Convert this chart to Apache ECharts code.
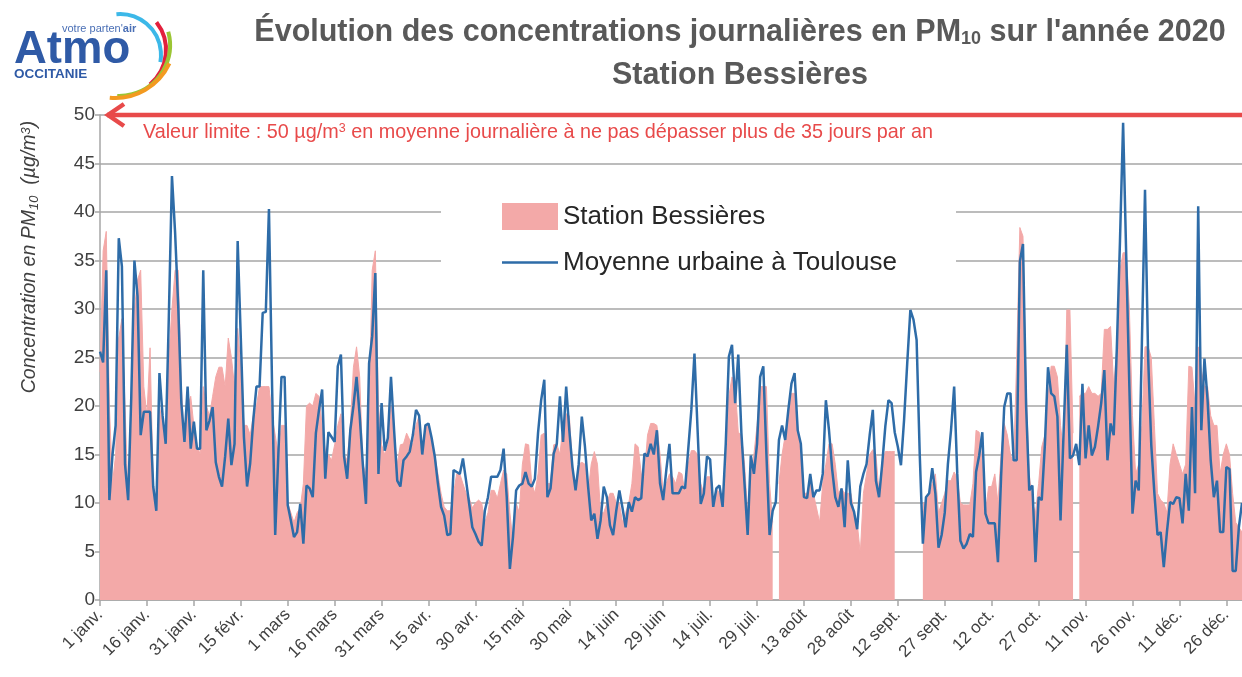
<!DOCTYPE html>
<html><head><meta charset="utf-8">
<script src="https://cdn.jsdelivr.net/npm/echarts@6/dist/echarts.min.js"></script>
<style>html,body{margin:0;padding:0;background:#fff}#c{width:1242px;height:677px}</style>
</head><body><div id="c"></div>
<script>
const monthNames = ['janv.','févr.','mars','avr.','mai','juin','juil.','août','sept.','oct.','nov.','déc.'];
const monthDays = [31,29,31,30,31,30,31,31,30,31,30,31];
const yMin = 0, yMax = 50, yStep = 5;
const limitValue = 50;

const bessieres = [
23.5,36,38,20,12,15,27,29,20,10,
18,30,33,34,22,19,26,12,10,20,
18,16,25,30,34,34,22,16,20,21,
18,16,15,22,20,19,21,23,24,24,
22,27,25,22,28,24,18,18,17,19,
20,22,22,22,22,19,17,15,18,18,
10,9,8,9,9.5,12,20,20.3,20,21.3,
21,18,15.4,15,14.4,16,18,19.2,15,14.4,
18,24,26.1,23,14,13,20,34,36,20,
16,15,16,20,17,14,16,16.1,17.2,16.5,
16,18,19,15,18,18.2,16.5,15,13,11,
9.6,9.2,9.2,11,13,13,12,11,10.5,9.5,
10,10.3,10,8,9,11.3,11.3,10.5,12,13.4,
13,9,6,10,9,14,16.1,16,12,11,
13,17,17.2,12,12,16,16.1,15,18,19.2,
19,14,11,14,14.2,14,11,14,15.3,14,
9,9,10,11,11,10,10,8,9,10,
12,16.1,15.8,13,13,17,18.2,18.2,18,15,
11,12,13,12.7,12,13.2,13,11,14,15.4,
15.4,15,12,11,12.7,12.7,10,11.5,11,10,
13,21,23,22,17.3,17,14,9,13,15,
18,22,22,22,12,8,null,12,15,17,
19,21.3,21.3,18,15,11,11,12.5,11,9.5,
8,12,14,16.1,16.1,14,11,11.5,11,11,
11,9,8,4.8,11,13,15,15.5,15,11,
14,15.3,15.3,15.3,15.3,null,null,null,null,null,
null,null,null,10,10,11,12,13,9,10,
11,12.3,12.3,13.2,12.5,10,9.8,9.8,9.8,12,
17.5,17.3,14,9,11.7,11.7,13,10,15,18.2,
17,15,14,25,38.4,37.5,22,13,10,9,
12,15.8,17,21,24.1,24.1,23,18,15,29.9,
29.9,17.2,null,21,21.3,21.3,22,21.3,21.3,21,
21.3,27.9,27.9,28.2,22,26,34,35.8,35.8,30,
19,13,14,18,26.1,26.1,25,18,11,10.3,
10,9,14,16.1,15,14,13,14,24.1,24,
20,26.1,23.7,22,22,19,18,18,13,15,
16.1,15,11,8,7.5,7
];

const toulouse = [
25.6,24.5,34,10.3,15,18,37.3,34.4,14,10.3,
21,35,31.3,17,19.4,19.4,19.4,11.7,9.2,23.4,
19,16.1,29.2,43.7,37.9,30.3,20.3,16.3,22,15.6,
18.4,15.6,15.6,34,17.5,18.5,19.9,14.2,12.7,11.7,
14.8,18.7,13.9,16.1,37,27,16.8,11.7,14.1,18.6,
22,22,29.6,29.7,40.3,22,6.7,15,23,23,
9.8,8.2,6.5,7,9.9,5.8,11.8,11.5,10.6,17.2,
19.6,21.7,12.5,17.3,16.8,16.3,24.1,25.3,14.8,12.5,
17.5,20,23,19,14,9.9,24.4,27.2,33.7,13,
20.3,15.4,16.7,23,17.5,12.3,11.7,14.4,14.8,15.3,
17,19.6,19,15,18,18.2,16.7,14.8,12,9.6,
8.7,6.7,6.8,13.4,13.2,13,14.6,12.3,9.9,7.5,
6.8,6,5.6,9.2,10.6,12.7,12.7,12.7,13.4,15.6,
10.6,3.2,6.5,11.3,11.8,12,13.2,12,11.7,12.5,
17.2,20.6,22.7,10.6,11.5,15.1,16.1,21,16.3,22,
17.5,13.7,11.3,14,18.9,15.8,11.7,8.2,8.9,6.3,
8.2,11.7,10.6,7.7,6.7,9.2,11.3,9.5,7.5,10.1,
9.1,10.6,10.3,10.5,15.1,14.8,16.1,15,17.5,12,
10.3,13.4,16.1,11,11,11,11.7,11.5,15.5,19.6,
25.4,17.5,9.9,11,14.8,14.5,9.6,11.5,11.8,9.6,
16.1,25.1,26.3,20.3,25.3,17.2,12,6.7,14.9,13,
16.1,23,24.1,15,6.7,9.2,10.1,16.5,18,16.5,
19.6,22.3,23.4,17.5,16.1,10.6,10.5,13,10.6,11.3,
11.3,13,20.6,17.5,13.5,10.6,9.6,11.5,7.5,14.4,
10,9.1,7.3,11.7,13,14,17,19.6,12.3,10.6,
14,17.9,20.6,20.3,17.3,15.8,13.9,18.6,24.4,29.9,
28.9,26.8,15,5.8,10.6,11,13.6,11,5.4,6.7,
9,14,17.5,22,13,6.1,5.3,5.8,6.8,6.5,
13.2,14.9,17.3,8.9,7.9,7.9,7.9,3.9,12.7,19.9,
21.3,21.3,14.4,14.4,34.9,36.7,20,11.3,11.8,3.9,
10.6,10.3,16,24,21.3,21,18.9,8.2,17.5,26.3,
14.6,14.9,16.1,13.9,22.3,14.6,18,14.9,15.8,17.9,
20.3,23.7,14.4,18.2,17,26,37,49.2,35.4,22,
8.9,12.3,11.3,26.5,42.3,25,16,11,6.7,7,
3.4,7,10.1,9.9,10.6,10.5,7.9,13,9.2,19.9,
11,40.6,17.5,24.9,20.6,14.4,10.6,12.3,7,7,
13.7,13.5,3,3,7.5,10
];

const days = [];
monthDays.forEach((n, m) => { for (let d = 1; d <= n; d++) days.push(d + ' ' + monthNames[m]); });

const NARROW = "'Liberation Sans Narrow','Arial Narrow','Liberation Sans',Arial,sans-serif";
const SANS = "'Liberation Sans',Arial,sans-serif";
const PINK = '#f3a9a8', BLUE = '#2e6ca8', RED = '#e84a4a', GRID = '#a6a6a6';
const lineIcon = 'path://M0,0L0.05,0L0.05,0.05Z M0,12.2L56,12.2L56,14.8L0,14.8Z M55.95,27L56,27L56,26.95Z';

const chart = echarts.init(document.getElementById('c'), null, {renderer: 'canvas'});
const option = {
  animation: false,
  backgroundColor: '#fff',
  grid: {left: 100, top: 115, width: 1144, height: 485},
  xAxis: {
    type: 'category', data: days, boundaryGap: false,
    axisLine: {lineStyle: {color: GRID, width: 1.5}},
    axisTick: {interval: 14, length: 6, lineStyle: {color: GRID, width: 1.5}},
    axisLabel: {interval: 14, rotate: 45, fontSize: 17, color: '#404040', fontFamily: SANS, margin: 12},
    splitLine: {show: false}
  },
  yAxis: {
    type: 'value', min: yMin, max: yMax, interval: yStep,
    axisLine: {show: true, lineStyle: {color: GRID, width: 1.5}},
    axisTick: {show: true, length: 5, lineStyle: {color: GRID, width: 1.5}},
    axisLabel: {fontSize: 19, color: '#404040', fontFamily: SANS, margin: 5},
    splitLine: {lineStyle: {color: GRID, width: 1.5}}
  },
  legend: {
    orient: 'vertical', left: 502, top: 203, padding: 0,
    itemWidth: 56, itemHeight: 27, itemGap: 19, z: 10,
    textStyle: {fontSize: 26, color: '#262626', fontFamily: SANS},
    data: [{name: 'Station Bessières', icon: 'rect'}, {name: 'Moyenne urbaine à Toulouse', icon: lineIcon}]
  },
  series: [
    {name: 'Station Bessières', type: 'line', data: bessieres, symbol: 'none', connectNulls: false,
     lineStyle: {width: 1, color: PINK}, itemStyle: {color: PINK}, areaStyle: {color: PINK, opacity: 1}, z: 2},
    {name: 'Moyenne urbaine à Toulouse', type: 'line', data: toulouse, symbol: 'none', showSymbol: false,
     lineStyle: {width: 2.5, color: BLUE}, itemStyle: {color: BLUE}, z: 3}
  ]
};
chart.setOption(option);

const p0 = chart.convertToPixel({gridIndex: 0}, [0, limitValue]);
const pEnd = chart.convertToPixel({gridIndex: 0}, [days.length - 1, limitValue]);
const ly = p0[1];
const rad = a => a * Math.PI / 180;

const graphic = [
  {type: 'rect', shape: {x: 441, y: 190, width: 515, height: 95}, style: {fill: '#fff'}, z: 3},
  // limit line and arrow
  {type: 'line', shape: {x1: p0[0] + 7, y1: ly, x2: pEnd[0], y2: ly}, style: {stroke: RED, lineWidth: 4.5}, z: 20},
  {type: 'polyline', shape: {points: [[p0[0] + 24, ly - 11], [p0[0] + 8, ly], [p0[0] + 24, ly + 11]]},
   style: {stroke: RED, lineWidth: 4.5, fill: null, lineJoin: 'miter'}, z: 20},
  {type: 'text', x: p0[0] + 43, y: ly + 18, z: 20,
   style: {text: '{a|Valeur limite : 50 µg/m}{b|3}{a| en moyenne journalière à ne pas dépasser plus de 35 jours par an}',
     verticalAlign: 'middle', fill: RED,
     rich: {a: {fontSize: 19.8, fontFamily: NARROW, fill: RED},
            b: {fontSize: 12.5, fontFamily: NARROW, fill: RED, padding: [0, 0, 8, 0]}}}},
  // titles
  {type: 'text', x: 740, y: 33, z: 20,
   style: {text: '{a|Évolution des concentrations journalières en PM}{b|10}{a| sur l\'année 2020}',
     align: 'center', verticalAlign: 'middle',
     rich: {a: {fontSize: 30.5, fontWeight: 'bold', fontFamily: NARROW, fill: '#595959'},
            b: {fontSize: 18, fontWeight: 'bold', fontFamily: NARROW, fill: '#595959', padding: [12, 0, 0, 0]}}}},
  {type: 'text', x: 740, y: 76, z: 20,
   style: {text: 'Station Bessières', align: 'center', verticalAlign: 'middle',
     font: "bold 30.5px " + NARROW, fill: '#595959'}},
  // y axis name
  {type: 'text', x: 30, y: 257, rotation: Math.PI / 2, z: 20,
   style: {text: '{a|Concentration en PM}{b|10}{a|  (µg/m}{c|3}{a|)}', align: 'center', verticalAlign: 'middle',
     rich: {a: {fontSize: 19.5, fontStyle: 'italic', fontFamily: SANS, fill: '#404040'},
            b: {fontSize: 13, fontStyle: 'italic', fontFamily: SANS, fill: '#404040', padding: [9, 0, 0, 0]},
            c: {fontSize: 13, fontStyle: 'italic', fontFamily: SANS, fill: '#404040', padding: [0, 0, 8, 0]}}}},
  // logo
  {type: 'arc', shape: {cx: 120, cy: 55, r: 41, startAngle: rad(-95), endAngle: rad(10)}, style: {stroke: '#3cb8e8', lineWidth: 4, fill: null}, z: 20},
  {type: 'arc', shape: {cx: 121, cy: 50, r: 45, startAngle: rad(-38), endAngle: rad(50)}, style: {stroke: '#e2203c', lineWidth: 4, fill: null}, z: 20},
  {type: 'arc', shape: {cx: 119, cy: 45, r: 51, startAngle: rad(-15), endAngle: rad(92)}, style: {stroke: '#9bc534', lineWidth: 4, fill: null}, z: 20},
  {type: 'arc', shape: {cx: 115, cy: 38, r: 60, startAngle: rad(25), endAngle: rad(95)}, style: {stroke: '#f39a20', lineWidth: 4, fill: null}, z: 20},
  {type: 'text', x: 14, y: 50, z: 21, style: {text: 'Atmo', font: "bold 45.5px " + SANS, fill: '#2f5aa6', verticalAlign: 'middle'}},
  {type: 'text', x: 62, y: 29, z: 22, style: {text: "{a|votre parten'}{b|air}", verticalAlign: 'middle',
     rich: {a: {fontSize: 11, fontFamily: SANS, fill: '#4a6fb5'}, b: {fontSize: 11, fontWeight: 'bold', fontFamily: SANS, fill: '#4a6fb5'}}}},
  {type: 'text', x: 14, y: 74, z: 21, style: {text: 'OCCITANIE', font: "bold 13.5px " + SANS, fill: '#2f5aa6', verticalAlign: 'middle'}}
];
chart.setOption({graphic: graphic});
</script>
</body></html>
